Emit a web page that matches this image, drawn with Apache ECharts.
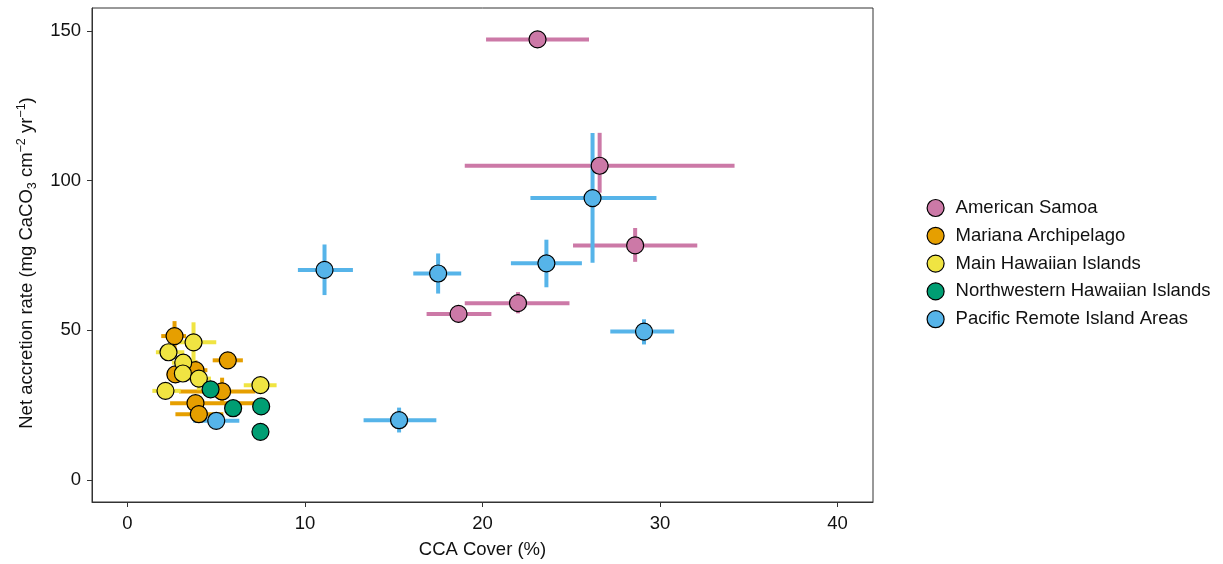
<!DOCTYPE html>
<html>
<head>
<meta charset="utf-8">
<script src="https://cdn.jsdelivr.net/npm/echarts@6/dist/echarts.min.js"></script>
<style>html,body{margin:0;padding:0;background:#fff}#c{width:1223px;height:564px}</style>
</head>
<body>
<div id="c"></div>
<script>
// Each row: [CCA cover %, accretion, xLow, xHigh, yLow, yHigh]
const groupNames = ['American Samoa','Mariana Archipelago','Main Hawaiian Islands','Northwestern Hawaiian Islands','Pacific Remote Island Areas'];
const americanSamoa = [
  [23.1,147.2,20.2,26.0,null,null],
  [26.6,105.0,19.0,34.2,96,116],
  [28.6,78.4,25.1,32.1,72.9,84.2],
  [22.0,59.1,19.0,24.9,55.7,62.8],
  [18.65,55.5,16.85,20.5,null,null]
];
const marianaArchipelago = [
  [2.65,48.1,1.9,3.3,43.7,53.1],
  [5.65,40.0,4.8,6.5,null,null],
  [2.7,35.3,2.2,3.4,null,null],
  [3.83,36.7,3.2,4.5,33,40],
  [5.33,29.6,2.9,7.2,26,34.2],
  [3.83,25.7,2.4,7.4,null,null],
  [4.02,22.0,2.7,5.4,null,null]
];
const mainHawaiian = [
  [2.31,42.7,1.6,3.2,null,null],
  [3.72,46.0,2.6,5.0,38,52.7],
  [3.14,39.2,2.5,3.8,null,null],
  [3.12,35.6,2.4,3.8,null,null],
  [4.02,33.9,3.4,4.7,30,37],
  [2.14,29.8,1.4,3.0,null,null],
  [7.49,31.7,6.55,8.4,null,null]
];
const nwHawaiian = [
  [4.68,30.3,null,null,null,null],
  [5.95,24.0,null,null,null,null],
  [7.53,24.6,null,null,null,null],
  [7.49,16.1,null,null,null,null]
];
const pacificRemote = [
  [11.1,70.2,9.6,12.7,61.8,78.7],
  [17.5,69.0,16.1,18.8,62.3,75.7],
  [15.3,20.0,13.3,17.4,15.9,24.2],
  [26.2,94.2,22.7,29.8,72.6,115.9],
  [23.6,72.4,21.6,25.6,64.4,80.3],
  [29.1,49.6,27.2,30.8,45.3,53.7],
  [5.0,19.8,3.7,6.3,null,null]
];
const xTicks = [0,10,20,30,40];
const yTicks = [0,50,100,150];
const groupColors = ['#CC79A7','#E69F00','#F0E442','#009E73','#56B4E9'];
const groupData = [americanSamoa, marianaArchipelago, mainHawaiian, nwHawaiian, pacificRemote];

const chart = echarts.init(document.getElementById('c'), null, {renderer:'canvas'});
const FONT = '"Liberation Sans", Arial, sans-serif';
const TXT = '#111';

function errRender(color){
  return function(params, api){
    const x = api.value(0), y = api.value(1);
    const xl = api.value(2), xh = api.value(3), yl = api.value(4), yh = api.value(5);
    const children = [];
    const st = {stroke: color, lineWidth: 4, lineCap: 'butt'};
    if (!isNaN(xl) && !isNaN(xh)) {
      const a = api.coord([xl, y]), b = api.coord([xh, y]);
      children.push({type:'line', shape:{x1:a[0],y1:a[1],x2:b[0],y2:b[1]}, style:st});
    }
    if (!isNaN(yl) && !isNaN(yh)) {
      const a = api.coord([x, yl]), b = api.coord([x, yh]);
      children.push({type:'line', shape:{x1:a[0],y1:a[1],x2:b[0],y2:b[1]}, style:st});
    }
    return {type:'group', children};
  };
}

const series = [];
groupData.forEach((d, i) => {
  series.push({
    type:'custom', name: groupNames[i] + ' err', z: 2, silent: true,
    renderItem: errRender(groupColors[i]),
    encode: {x: 0, y: 1},
    data: d.map(r => r.map(v => v === null ? NaN : v))
  });
});
groupData.forEach((d, i) => {
  series.push({
    type:'scatter', name: groupNames[i], z: 5,
    symbol:'circle', symbolSize: 17,
    itemStyle: {color: groupColors[i], borderColor:'#000', borderWidth: 1.2, opacity: 1},
    data: d.map(r => [r[0], r[1]])
  });
});

chart.setOption({
  animation: false,
  backgroundColor: '#fff',
  grid: {left: 92, right: 350, top: 8, bottom: 61, show: true, borderColor: '#333', borderWidth: 1, backgroundColor:'transparent'},
  xAxis: {
    type:'value', min: -2, max: 42,
    name: 'CCA Cover (%)', nameLocation:'middle', nameGap: 38,
    nameTextStyle: {fontFamily: FONT, fontSize: 18.5, color: TXT},
    axisLine: {show: true, onZero: false, lineStyle:{color:'#333', width:1}},
    axisTick: {show: true, length: 5, lineStyle:{color:'#333'}, customValues: xTicks},
    axisLabel: {fontFamily: FONT, fontSize: 18.5, color: TXT, margin: 12, customValues: xTicks},
    splitLine: {show: false}
  },
  yAxis: {
    type:'value', min: -7.33, max: 157.7,
    name: 'Net accretion rate (mg CaCO{sub|3} cm{sup|−2} yr{sup|−1})',
    nameLocation:'middle', nameGap: 52, nameRotate: 90,
    nameTextStyle: {fontFamily: FONT, fontSize: 18.5, color: TXT, lineHeight: 24, padding:[0,16,0,0],
      rich: {
        sub: {fontFamily: FONT, fontSize: 12.5, color: TXT, verticalAlign:'bottom', lineHeight: 24, padding:[7,0,0,0]},
        sup: {fontFamily: FONT, fontSize: 12.5, color: TXT, verticalAlign:'top', lineHeight: 24, padding:[0,0,9,0]}
      }},
    axisLine: {show: true, onZero: false, lineStyle:{color:'#333', width:1}},
    axisTick: {show: true, length: 5, lineStyle:{color:'#333'}, customValues: yTicks},
    axisLabel: {fontFamily: FONT, fontSize: 18.5, color: TXT, margin: 11, customValues: yTicks},
    splitLine: {show: false}
  },
  legend: {
    orient:'vertical', left: 926.5, top: 198.5, padding: 0,
    data: groupNames,
    icon: 'circle', itemWidth: 17, itemHeight: 17, itemGap: 8.8,
    itemStyle: {borderColor:'#000', borderWidth: 1.2},
    textStyle: {fontFamily: FONT, fontSize: 18.5, color: TXT, lineHeight: 17, padding:[0,0,0,6.5]}
  },
  series
});
</script>
</body>
</html>
